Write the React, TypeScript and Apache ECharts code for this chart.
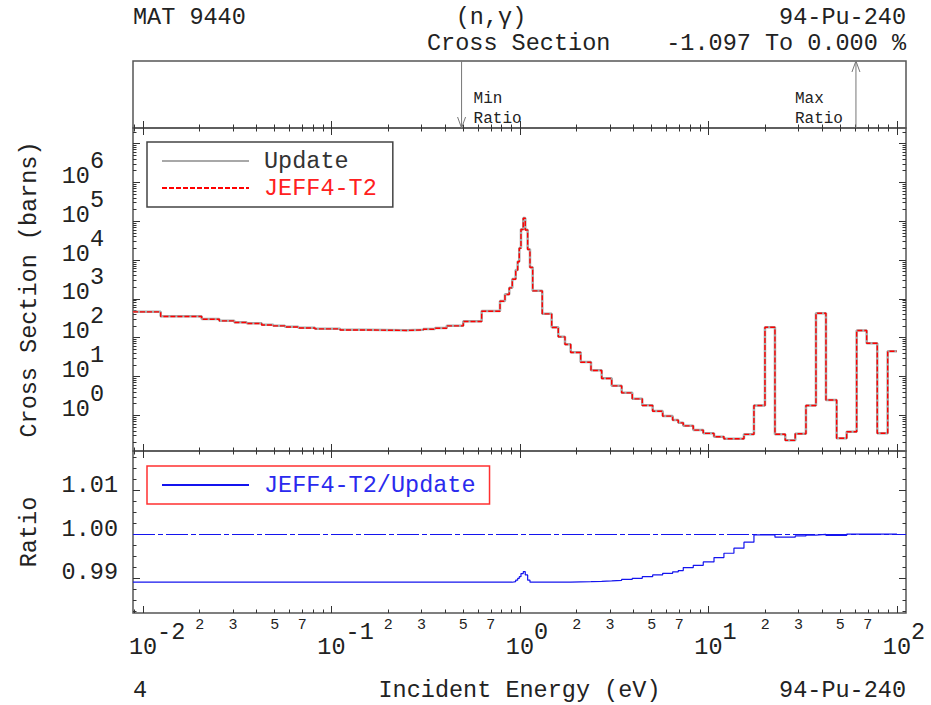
import React, { useEffect, useRef } from "react";
import * as echarts from "echarts";

// ---------------- data ----------------
// group boundaries of the step (histogram) representation, eV
const groupBoundsEv = [
  0.00885, 0.01241, 0.02048, 0.02541, 0.03052, 0.03549, 0.04262, 0.04912, 0.05665, 0.06667,
  0.08175, 0.111, 0.1475, 0.2506, 0.3069, 0.354, 0.4086, 0.5003, 0.6262, 0.7835,
  0.8325, 0.8773, 0.9104, 0.9489, 0.9723, 0.9915, 1.0123, 1.0411, 1.0669, 1.0984,
  1.13, 1.168, 1.313, 1.473, 1.597, 1.733, 1.858, 2.099, 2.381, 2.713,
  3.066, 3.464, 3.943, 4.455, 5.058, 5.715, 6.457, 6.917, 7.351, 8.306,
  9.385, 10.7, 12.08, 13.65, 15.43, 17.43, 19.94, 22.53, 25.55, 28.87,
  32.9, 37.18, 42.01, 47.87, 54.1, 61.12, 69.08, 78.62, 89.29, 100.0,
];
// "Update" capture cross section per group, barns
const updateBarns = [
  466, 355, 302, 273, 248, 234, 215, 203, 191, 180,
  170, 160, 155, 160, 167, 177, 203, 264, 486, 879,
  1306, 1932, 3236, 5521, 9140, 20360, 61660, 120500, 60000, 18840,
  6477, 1618, 414, 185, 106, 67.3, 41.9, 23.6, 14.4, 8.97,
  5.78, 3.82, 2.68, 1.81, 1.29, 0.96, 0.757, 0.645, 0.54, 0.418,
  0.344, 0.281, 0.25, 0.25, 0.324, 1.79, 185, 0.326, 0.227, 0.336,
  1.79, 424, 2.48, 0.256, 0.378, 153, 71.5, 0.344, 44.5,
];
// ratio JEFF4-T2 / Update per group
const ratioJeffOverUpdate = [
  0.98903, 0.98903, 0.98903, 0.98903, 0.98903, 0.98903, 0.98903, 0.98903, 0.98903, 0.98903,
  0.98903, 0.98903, 0.98903, 0.98903, 0.98903, 0.98903, 0.98903, 0.98903, 0.98903, 0.98903,
  0.98903, 0.98903, 0.98915, 0.9895, 0.9899, 0.9903, 0.991, 0.99144, 0.9907, 0.9895,
  0.98905, 0.98905, 0.98905, 0.98905, 0.98905, 0.98905, 0.9891, 0.98915, 0.98924, 0.98935,
  0.98947, 0.9897, 0.98992, 0.9903, 0.99069, 0.99107, 0.9914, 0.99168, 0.99237, 0.9929,
  0.99366, 0.99465, 0.99565, 0.9968, 0.99817, 0.99985, 0.99985, 0.99931, 0.99931, 0.9996,
  0.9998, 0.99995, 0.9997, 0.9997, 1.0, 1.0, 1.0, 1.0, 1.0,
];
const ratioReference = [1.0];
// energies of the minimum / maximum ratio (eV) and their labels
const ratioMarkerEnergyEv = [0.49, 60.6];
const ratioMarkerNames = ["Min", "Max"];

// tick / label definitions
const xMinorLabelDigits = [2, 3, 5, 7];
const csLabelExponents = [0, 1, 2, 3, 4, 5, 6];
const ratioLabelValues = [0.99, 1.0, 1.01];

// ---------------- styling ----------------
const FONT = '"Liberation Mono", "DejaVu Sans Mono", monospace';
const INK = "#222";
const FS = 23.5;
const ADV = 14.1; // monospace advance at FS
const TICK = { color: "#333", width: 1 };

const X_MIN = -2.053, X_MAX = 2.048;
const CS_MIN = -0.919, CS_MAX = 7.4;
const R_MIN = 0.982, R_MAX = 1.019;

const lg = Math.log10;

function logMajors(lo: number, hi: number) {
  const r: number[] = [];
  for (let d = Math.ceil(lo); d <= Math.floor(hi); d++) r.push(d);
  return r;
}
function logMinors(lo: number, hi: number, digits: number[]) {
  const r: number[] = [];
  for (let d = Math.floor(lo) - 1; d <= Math.ceil(hi); d++)
    for (const k of digits) {
      const v = d + lg(k);
      if (v > lo && v < hi) r.push(v);
    }
  return r;
}
function linTicks(lo: number, hi: number, step: number, every: number, major: boolean) {
  const r: number[] = [];
  for (let k = Math.ceil(lo / step - 1e-9); k <= Math.floor(hi / step + 1e-9); k++) {
    const isMaj = k % every === 0;
    if (isMaj === major) r.push(Math.round(k * step * 1e6) / 1e6);
  }
  return r;
}

const ALL_DIGITS = [2, 3, 4, 5, 6, 7, 8, 9];
const xMaj = logMajors(X_MIN, X_MAX);
const xMin = logMinors(X_MIN, X_MAX, ALL_DIGITS);
const xMinLbl = logMinors(X_MIN, X_MAX, xMinorLabelDigits);
const csMaj = logMajors(CS_MIN, CS_MAX);
const csMin = logMinors(CS_MIN, CS_MAX, ALL_DIGITS);
const rMaj = linTicks(R_MIN, R_MAX, 0.0025, 4, true);
const rMin = linTicks(R_MIN, R_MAX, 0.0025, 4, false);

function stepPoints(vals: number[]) {
  const pts: number[][] = [];
  for (let i = 0; i < vals.length; i++) {
    pts.push([lg(groupBoundsEv[i]), vals[i]]);
    pts.push([lg(groupBoundsEv[i + 1]), vals[i]]);
  }
  return pts;
}
const updatePts = stepPoints(updateBarns.map((v) => lg(v)));
const jeffPts = stepPoints(updateBarns.map((v, i) => lg(v * ratioJeffOverUpdate[i])));
const ratioPts = stepPoints(ratioJeffOverUpdate);
const markerData = ratioMarkerEnergyEv.map((e, i) => [lg(e), i]);

const supRich: any = {
  b: { fontFamily: FONT, fontSize: FS, color: INK, height: 12, lineHeight: 12, verticalAlign: "bottom" },
  p: { fontFamily: FONT, fontSize: FS, color: INK, height: 12, lineHeight: 12, width: ADV, verticalAlign: "bottom" },
  p2: { fontFamily: FONT, fontSize: FS, color: INK, height: 12, lineHeight: 12, width: 2 * ADV, verticalAlign: "bottom" },
  s: { fontFamily: FONT, fontSize: FS, color: INK, height: 12, lineHeight: 27, padding: [0, 0, 15, 0], verticalAlign: "bottom" },
};

function tickAxis(gridIndex: number, position: string, min: number, max: number, ticks: number[], len: number, extra: any = {}) {
  return {
    type: "value",
    gridIndex,
    position,
    min,
    max,
    axisLine: { show: false, onZero: false },
    splitLine: { show: false },
    splitArea: { show: false },
    minorTick: { show: false },
    axisTick: { show: true, inside: true, length: len, customValues: ticks, lineStyle: TICK },
    axisLabel: { show: false },
    nameMoveOverlap: false,
    ...extra,
  };
}

const nameStyle = { fontFamily: FONT, fontSize: FS, color: INK, lineHeight: 26 };

function txt(text: string, x: number, y: number, align: string, size = FS) {
  return {
    type: "text",
    x,
    y,
    silent: true,
    style: {
      text,
      font: `${size}px ${FONT}`,
      fill: INK,
      align,
      textAlign: align,
      verticalAlign: "middle",
      textVerticalAlign: "middle",
    },
  };
}

const gridBase = { left: 133, width: 773, show: true, borderColor: "#555", borderWidth: 1.5, backgroundColor: "transparent", containLabel: false, outerBoundsMode: "none" };

const legendBase = {
  orient: "vertical",
  left: 147,
  itemGap: 3,
  itemWidth: 87,
  itemHeight: 14,
  borderWidth: 1.5,
  selectedMode: false,
  itemStyle: { opacity: 0, borderWidth: 0 },
  textStyle: { fontFamily: FONT, fontSize: FS, lineHeight: 24, padding: [0, 0, 0, 10] },
};

const option: any = {
  animation: false,
  backgroundColor: "#fff",
  textStyle: { fontFamily: FONT, color: INK },
  grid: [
    { ...gridBase, top: 61, height: 67 },
    { ...gridBase, top: 128, height: 323 },
    { ...gridBase, top: 451, height: 162 },
  ],
  xAxis: [
    tickAxis(0, "bottom", X_MIN, X_MAX, xMaj, 7),
    tickAxis(0, "bottom", X_MIN, X_MAX, xMin, 3.5),
    tickAxis(1, "bottom", X_MIN, X_MAX, xMaj, 7),
    tickAxis(1, "bottom", X_MIN, X_MAX, xMin, 3.5),
    tickAxis(1, "top", X_MIN, X_MAX, xMaj, 7),
    tickAxis(1, "top", X_MIN, X_MAX, xMin, 3.5),
    tickAxis(2, "bottom", X_MIN, X_MAX, xMaj, 7, {
      name: "Incident Energy (eV)",
      nameLocation: "middle",
      nameGap: 64,
      nameTextStyle: nameStyle,
      axisLabel: {
        show: true,
        customValues: xMaj,
        margin: 13.5,
        verticalAlign: "top",
        align: "center",
        formatter: (v: number) => {
          const e = Math.round(v);
          return e < 0 ? `{p2| }{b|10}{s|${e}}` : `{p| }{b|10}{s|${e}}`;
        },
        rich: supRich,
      },
    }),
    tickAxis(2, "bottom", X_MIN, X_MAX, xMin, 3.5, {
      axisLabel: {
        show: true,
        customValues: xMinLbl,
        margin: 4.5,
        fontFamily: FONT,
        fontSize: 15,
        lineHeight: 15,
        color: INK,
        verticalAlign: "top",
        formatter: (v: number) => String(Math.round(Math.pow(10, v - Math.floor(v + 1e-9)))),
      },
    }),
    tickAxis(2, "top", X_MIN, X_MAX, xMaj, 7),
    tickAxis(2, "top", X_MIN, X_MAX, xMin, 3.5),
  ],
  yAxis: [
    { type: "value", gridIndex: 0, min: 0, max: 1, show: false, axisLine: { onZero: false } },
    tickAxis(1, "left", CS_MIN, CS_MAX, csMaj, 7, {
      name: "Cross Section (barns)",
      nameLocation: "middle",
      nameRotate: 90,
      nameGap: 91,
      nameTextStyle: nameStyle,
      axisLabel: {
        show: true,
        customValues: csLabelExponents,
        margin: 29,
        align: "right",
        verticalAlign: "bottom",
        formatter: (v: number) => `{b|10}{s|${Math.round(v)}}`,
        rich: supRich,
      },
    }),
    tickAxis(1, "left", CS_MIN, CS_MAX, csMin, 3.5),
    tickAxis(1, "right", CS_MIN, CS_MAX, csMaj, 7),
    tickAxis(1, "right", CS_MIN, CS_MAX, csMin, 3.5),
    tickAxis(2, "left", R_MIN, R_MAX, rMaj, 7, {
      name: "Ratio",
      nameLocation: "middle",
      nameRotate: 90,
      nameGap: 91,
      nameTextStyle: nameStyle,
      axisLabel: {
        show: true,
        customValues: ratioLabelValues,
        margin: 15,
        fontFamily: FONT,
        fontSize: FS,
        color: INK,
        lineHeight: 10,
        align: "right",
        verticalAlign: "bottom",
        formatter: (v: number) => v.toFixed(2),
      },
    }),
    tickAxis(2, "left", R_MIN, R_MAX, rMin, 3.5),
    tickAxis(2, "right", R_MIN, R_MAX, rMaj, 7),
    tickAxis(2, "right", R_MIN, R_MAX, rMin, 3.5),
  ],
  legend: [
    {
      ...legendBase,
      data: [
        { name: "Update", textStyle: { color: "#333" } },
        { name: "JEFF4-T2", textStyle: { color: "#ff2020" } },
      ],
      top: 142,
      padding: [7, 16, 7, 14],
      borderColor: "#444",
    },
    {
      ...legendBase,
      data: [{ name: "JEFF4-T2/Update", textStyle: { color: "#2a2aee" } }],
      top: 466,
      padding: [7, 14, 7, 14],
      borderColor: "#ff3030",
    },
  ],
  graphic: {
    elements: [
      txt("MAT 9440", 133, 17, "left"),
      txt("(n,\u03b3)", 491, 17, "center"),
      txt("94-Pu-240", 906, 17, "right"),
      txt("Cross Section", 427, 43, "left"),
      txt("-1.097 To 0.000 %", 906, 43, "right"),
      txt("4", 133, 690, "left"),
      txt("94-Pu-240", 906, 690, "right"),
    ],
  },
  series: [
    {
      type: "custom",
      name: "ratio markers",
      xAxisIndex: 0,
      yAxisIndex: 0,
      silent: true,
      data: markerData,
      renderItem: (params: any, api: any) => {
        const xv = api.value(0);
        const kind = api.value(1);
        const bot = api.coord([xv, 0]);
        const top = api.coord([xv, 1]);
        const x = bot[0];
        const isMin = kind === 0;
        const head = isMin
          ? [[x - 4, bot[1] - 11], [x, bot[1]], [x + 4, bot[1] - 11]]
          : [[x - 4, top[1] + 11], [x, top[1]], [x + 4, top[1] + 11]];
        const tx = isMin ? x + 12 : x - 61;
        const mk = (t: string, y: number) => ({
          type: "text",
          x: tx,
          y,
          style: { text: t, font: `16px ${FONT}`, fill: INK, align: "left", textAlign: "left", verticalAlign: "middle", textVerticalAlign: "middle" },
        });
        return {
          type: "group",
          children: [
            { type: "line", shape: { x1: x, y1: top[1], x2: x, y2: bot[1] }, style: { stroke: "#777", lineWidth: 1 } },
            { type: "polyline", shape: { points: head }, style: { stroke: "#777", lineWidth: 1, fill: null } },
            mk(ratioMarkerNames[kind], bot[1] - 29),
            mk("Ratio", bot[1] - 9),
          ],
        };
      },
    },
    {
      type: "line",
      name: "Update",
      xAxisIndex: 2,
      yAxisIndex: 1,
      data: updatePts,
      symbol: "none",
      silent: true,
      lineStyle: { color: "#a8a8a8", width: 2.5 },
      itemStyle: { color: "#a8a8a8" },
    },
    {
      type: "line",
      name: "JEFF4-T2",
      xAxisIndex: 2,
      yAxisIndex: 1,
      data: jeffPts,
      symbol: "none",
      silent: true,
      lineStyle: { color: "#ff0000", width: 1.4, type: [5, 2] },
      itemStyle: { color: "#ff0000" },
    },
    {
      type: "line",
      name: "JEFF4-T2/Update",
      xAxisIndex: 6,
      yAxisIndex: 5,
      data: ratioPts,
      symbol: "none",
      silent: true,
      lineStyle: { color: "#1414ee", width: 1.2 },
      itemStyle: { color: "#1414ee" },
      markLine: {
        silent: true,
        symbol: ["none", "none"],
        label: { show: false },
        lineStyle: { color: "#1414ee", width: 1.2, type: [22, 3, 5, 3] },
        data: ratioReference.map((v) => ({ yAxis: v })),
      },
    },
  ],
};

export default function App() {
  const ref = useRef<HTMLDivElement>(null);
  useEffect(() => {
    if (!ref.current) return;
    const chart = echarts.init(ref.current, null, { renderer: "svg", width: 931, height: 705 });
    chart.setOption(option);
    return () => chart.dispose();
  }, []);
  return (
    <div
      ref={ref}
      style={{ position: "fixed", left: 0, top: 0, width: 931, height: 705, background: "#fff" }}
    />
  );
}
